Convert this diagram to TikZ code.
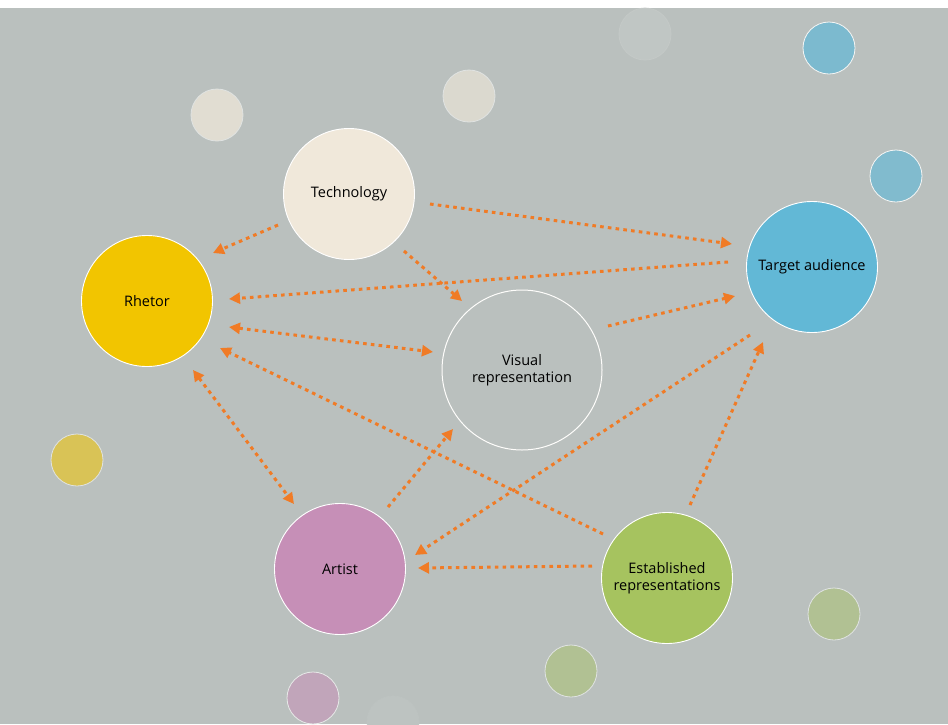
\documentclass[tikz,border=0pt]{standalone}
\usepackage{fontspec}
\setmainfont{Open Sans}
\usetikzlibrary{arrows.meta,calc}
\definecolor{bgc}{HTML}{BAC0BE}
\definecolor{arrc}{HTML}{F07B26}
\definecolor{techc}{HTML}{F0E8DA}
\definecolor{rhetc}{HTML}{F2C500}
\definecolor{targc}{HTML}{62B8D6}
\definecolor{artc}{HTML}{C68FB7}
\definecolor{estc}{HTML}{A6C35F}
\tikzset{
  big/.style={circle,draw=white,line width=0.9pt,minimum size=131pt,inner sep=0pt,align=center,
    font=\fontsize{14.5}{17.5}\selectfont,text=black},
  dot/.style={circle,draw=white!85!bgc,line width=0.8pt,minimum size=52pt,inner sep=0pt},
  arr/.style={draw=arrc,line width=3pt,dash pattern=on 3.6pt off 4.2pt,
    -{Triangle[length=11pt,width=11pt,fill=arrc]}},
  arrb/.style={arr,{Triangle[length=11pt,width=11pt,fill=arrc]}-{Triangle[length=11pt,width=11pt,fill=arrc]}}
}
\begin{document}
\begin{tikzpicture}[x=1pt,y=-1pt]
\useasboundingbox (0,0) rectangle (948,724);
\fill[white] (0,0) rectangle (948,8);
\fill[bgc] (0,8) rectangle (948,724);
% small decorative circles
\node[dot,fill=techc!72!bgc,draw=white!55!bgc] (d1) at (217,115) {};
\node[dot,fill=techc!62!bgc,draw=white!55!bgc] (d2) at (469,96) {};
\node[dot,fill=white!9!bgc,draw=white!14!bgc] (d3) at (645,34) {};
\node[dot,fill=targc!70!bgc] (d4) at (829,48) {};
\node[dot,fill=targc!65!bgc] (d5) at (896,176) {};
\node[dot,fill=rhetc!55!bgc,draw=white!55!bgc] (d6) at (77,460) {};
\node[dot,fill=estc!45!bgc,draw=white!55!bgc] (d7) at (834,614) {};
\node[dot,fill=estc!45!bgc,draw=white!55!bgc] (d8) at (571,671) {};
\node[dot,fill=artc!55!bgc,draw=white!65!bgc] (d9) at (313,698) {};
\node[dot,fill=white!4!bgc,draw=white!5!bgc] (d10) at (393,722) {};
% main circles
\node[big,fill=techc] (T) at (349,194) {Technology};
\node[big,fill=rhetc] (R) at (147,301) {Rhetor};
\node[big,fill=targc] (A) at (812,267) {Target audience};
\node[big,fill=none,minimum size=160pt,line width=1pt,draw=white!90!techc] (V) at (522,370) {Visual\\representation};
\node[big,fill=artc] (P) at (340,569) {Artist};
\node[big,fill=estc] (E) at (667,578) {Established\\representations};
% connectors
\draw[arr] ($(T)+(-71,31)$) -- ($(R)+(66,-48)$);
\draw[arr] ($(T)+(81,10)$) -- ($(A)+(-80,-23)$);
\draw[arr] ($(T)+(55,57)$) -- ($(V)+(-60,-69)$);
\draw[arr] ($(A)+(-84,-5)$) -- ($(R)+(82,-2)$);
\draw[arrb] ($(R)+(82,26)$) -- ($(V)+(-89,-18)$);
\draw[arrb] ($(R)+(46,69)$) -- ($(P)+(-46,-65)$);
\draw[arr] ($(E)+(-64,-44)$) -- ($(R)+(73,47)$);
\draw[arr] ($(P)+(48,-62)$) -- ($(V)+(-69,59)$);
\draw[arr] ($(V)+(86,-44)$) -- ($(A)+(-77,29)$);
\draw[arr] ($(A)+(-62,68)$) -- ($(P)+(75,-14)$);
\draw[arr] ($(E)+(23,-73)$) -- ($(A)+(-49,75)$);
\draw[arr] ($(E)+(-75,-12)$) -- ($(P)+(78,-1)$);
\end{tikzpicture}
\end{document}
